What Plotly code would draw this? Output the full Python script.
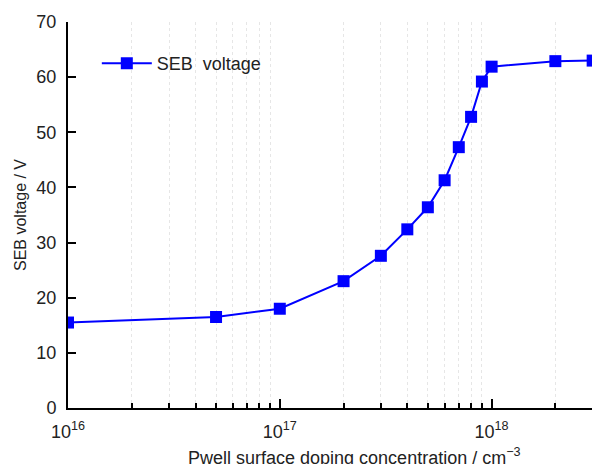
import plotly.graph_objects as go

# Pwell surface doping (cm^-3) and the resulting SEB voltage (V)
doping = [1e16, 5e16, 1e17, 2e17, 3e17, 4e17, 5e17, 6e17, 7e17, 8e17, 9e17, 1e18, 2e18, 3e18]
seb_voltage = [15.5, 16.5, 18.0, 23.0, 27.6, 32.4, 36.4, 41.3, 47.3, 52.8, 59.2, 61.9, 62.9, 63.0]

major_ticks = [1e16, 1e17, 1e18]
major_labels = ["10<sup>16</sup>", "10<sup>17</sup>", "10<sup>18</sup>"]
minor_ticks = [m * 10 ** e for e in (16, 17, 18) for m in range(2, 10)]

FONT = "Liberation Sans, Arial, sans-serif"
TXT = "#222"

fig = go.Figure()
fig.add_trace(go.Scatter(
    x=doping, y=seb_voltage, mode="lines+markers", name="SEB  voltage",
    line=dict(color="#0000FF", width=2),
    marker=dict(symbol="square", size=12, color="#0000FF"),
))

fig.update_layout(
    width=592, height=464,
    margin=dict(l=68, r=0, t=22, b=56),
    paper_bgcolor="white", plot_bgcolor="white",
    font=dict(family=FONT, size=18, color=TXT),
    showlegend=True,
    legend=dict(x=0.055, y=0.94, xanchor="left", yanchor="top",
                bgcolor="rgba(0,0,0,0)", font=dict(size=18, color=TXT),
                itemwidth=50),
    xaxis=dict(
        type="log", range=[16, 18.474],
        tickmode="array", tickvals=major_ticks, ticktext=major_labels,
        ticks="inside", ticklen=9, tickwidth=1.5, tickcolor="black",
        ticklabelstandoff=6,
        showline=True, linecolor="black", linewidth=2,
        showgrid=False, zeroline=False,
        minor=dict(tickmode="array", tickvals=minor_ticks, ticks="inside",
                   ticklen=5, tickwidth=1.5, tickcolor="black",
                   showgrid=True, gridcolor="#e6e6e6", griddash="dot", gridwidth=1),
        tickfont=dict(size=18, color=TXT),
    ),
    yaxis=dict(
        range=[0, 70], dtick=10, tick0=0,
        ticks="inside", ticklen=8, tickwidth=1.5, tickcolor="black",
        ticklabelstandoff=6,
        showline=True, linecolor="black", linewidth=2,
        showgrid=False, zeroline=False,
        tickfont=dict(size=18, color=TXT),
        title=dict(text="SEB voltage / V", font=dict(size=16, color=TXT), standoff=6),
    ),
)

fig.add_annotation(
    text="Pwell surface doping concentration / cm<sup>−3</sup>",
    xref="paper", yref="paper", x=(354 - 68) / 524, y=-0.09,
    xanchor="center", yanchor="top", showarrow=False,
    font=dict(size=18, color=TXT),
)

fig.write_html("out.html")
